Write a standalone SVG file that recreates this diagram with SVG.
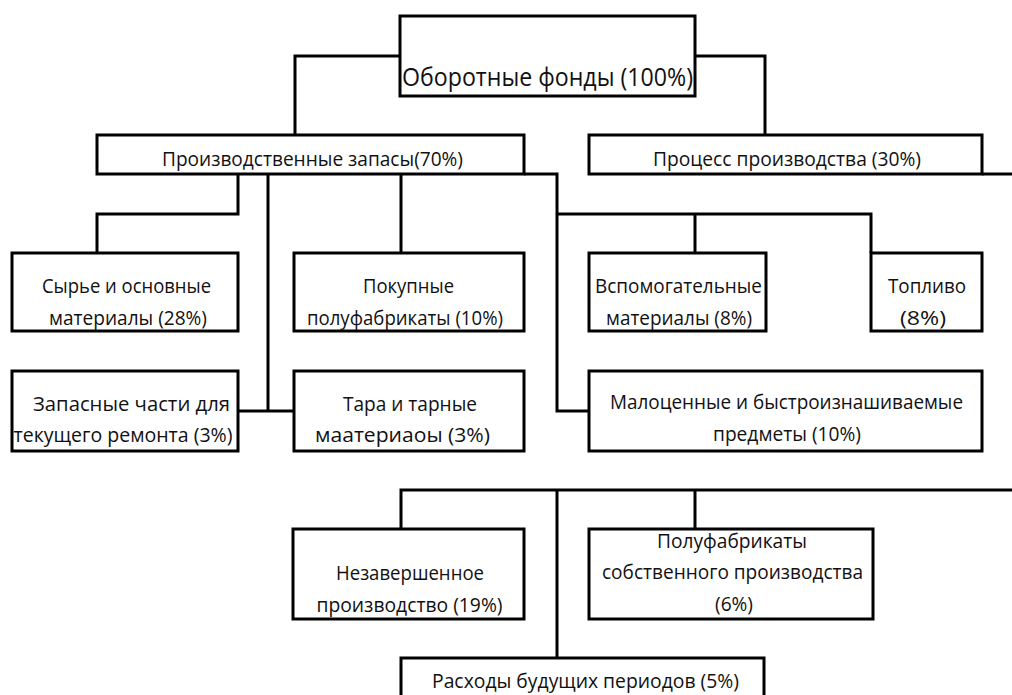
<svg xmlns="http://www.w3.org/2000/svg" width="1012" height="695" viewBox="0 0 1012 695">
<style>
.box{fill:#fff;stroke:#000;stroke-width:3}
.ln{fill:none;stroke:#000;stroke-width:3}
text{font-family:"Open Sans","Noto Sans",sans-serif;font-size:20px;fill:#111;text-anchor:middle}
.title{font-size:25px;text-anchor:start}
</style>
<rect width="1012" height="695" fill="#fff"/>
<g id="connectors">
<polyline class="ln" points="400,56 295,56 295,135"/>
<polyline class="ln" points="695,56 765,56 765,135"/>
<polyline class="ln" points="238,174 238,214 97,214 97,253"/>
<polyline class="ln" points="268,174 268,411"/>
<polyline class="ln" points="238,411 294,411"/>
<polyline class="ln" points="401,174 401,253"/>
<polyline class="ln" points="524,174 557,174 557,411 589,411"/>
<polyline class="ln" points="557,214 871,214 871,253"/>
<polyline class="ln" points="695,214 695,253"/>
<polyline class="ln" points="982,174 1012,174"/>
<polyline class="ln" points="401,529 401,490 1012,490"/>
<polyline class="ln" points="557,490 557,658"/>
<polyline class="ln" points="695,490 695,529"/>
</g>
<g id="n-root"><rect class="box" x="400" y="16" width="295" height="80"/><text class="title" x="402" y="86" textLength="291" lengthAdjust="spacingAndGlyphs">Оборотные фонды (100%)</text></g>
<g id="n-prod"><rect class="box" x="97" y="135" width="427" height="39"/><text x="312.5" y="166" textLength="301" lengthAdjust="spacingAndGlyphs">Производственные запасы(70%)</text></g>
<g id="n-proc"><rect class="box" x="589" y="135" width="393" height="39"/><text x="787" y="166" textLength="268" lengthAdjust="spacingAndGlyphs">Процесс производства (30%)</text></g>
<g id="n-syr"><rect class="box" x="12" y="253" width="226" height="78"/><text x="126.5" y="293" textLength="169" lengthAdjust="spacingAndGlyphs">Сырье и основные</text><text x="128" y="325" textLength="158" lengthAdjust="spacingAndGlyphs">материалы (28%)</text></g>
<g id="n-pok"><rect class="box" x="294" y="253" width="230" height="78"/><text x="408.5" y="293" textLength="91" lengthAdjust="spacingAndGlyphs">Покупные</text><text x="405" y="325" textLength="196" lengthAdjust="spacingAndGlyphs">полуфабрикаты (10%)</text></g>
<g id="n-vsp"><rect class="box" x="589" y="253" width="177" height="78"/><text x="678.5" y="293" textLength="167" lengthAdjust="spacingAndGlyphs">Вспомогательные</text><text x="679" y="325" textLength="146" lengthAdjust="spacingAndGlyphs">материалы (8%)</text></g>
<g id="n-top"><rect class="box" x="871" y="253" width="111" height="78"/><text x="927" y="293" textLength="78" lengthAdjust="spacingAndGlyphs">Топливо</text><text x="923" y="325" textLength="46" lengthAdjust="spacingAndGlyphs">(8%)</text></g>
<g id="n-zap"><rect class="box" x="12" y="371" width="226" height="80"/><text x="131.5" y="411" textLength="197" lengthAdjust="spacingAndGlyphs">Запасные части для</text><text x="123" y="442" textLength="219" lengthAdjust="spacingAndGlyphs">текущего ремонта (3%)</text></g>
<g id="n-tara"><rect class="box" x="294" y="371" width="230" height="80"/><text x="410" y="411" textLength="134" lengthAdjust="spacingAndGlyphs">Тара и тарные</text><text x="402.5" y="442" textLength="175" lengthAdjust="spacingAndGlyphs">маатериаоы (3%)</text></g>
<g id="n-malo"><rect class="box" x="589" y="371" width="393" height="80"/><text x="786.5" y="409" textLength="353" lengthAdjust="spacingAndGlyphs">Малоценные и быстроизнашиваемые</text><text x="787" y="441" textLength="148" lengthAdjust="spacingAndGlyphs">предметы (10%)</text></g>
<g id="n-nez"><rect class="box" x="293" y="529" width="231" height="90"/><text x="410" y="580" textLength="148" lengthAdjust="spacingAndGlyphs">Незавершенное</text><text x="409.5" y="612" textLength="186" lengthAdjust="spacingAndGlyphs">производство (19%)</text></g>
<g id="n-pfs"><rect class="box" x="589" y="529" width="284" height="90"/><text x="732" y="548" textLength="150" lengthAdjust="spacingAndGlyphs">Полуфабрикаты</text><text x="732.5" y="579" textLength="261" lengthAdjust="spacingAndGlyphs">собственного производства</text><text x="734" y="611" textLength="38" lengthAdjust="spacingAndGlyphs">(6%)</text></g>
<g id="n-ras"><rect class="box" x="401" y="658" width="363" height="45"/><text x="585.5" y="688" textLength="307" lengthAdjust="spacingAndGlyphs">Расходы будущих периодов (5%)</text></g>
</svg>
